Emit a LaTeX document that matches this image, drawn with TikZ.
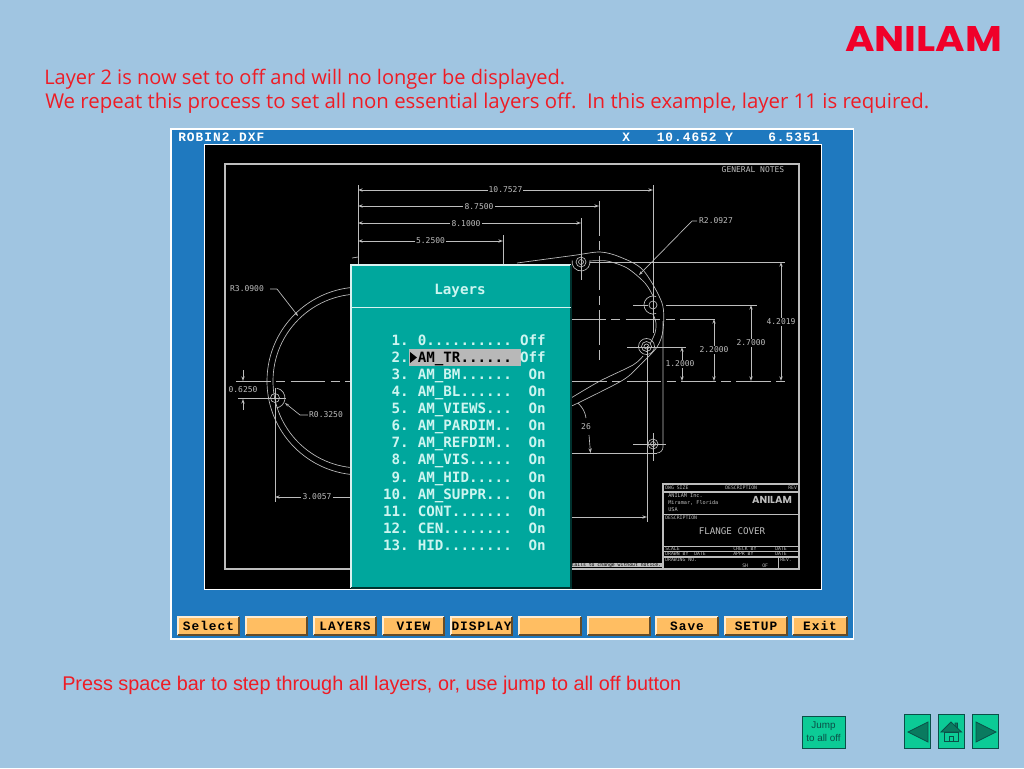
\documentclass[tikz,border=0pt]{standalone}
\usepackage{fontspec}
\setmainfont{Liberation Sans}
\newfontfamily\notefont{Open Sans}
\newfontfamily\dosfont{DejaVu Sans Mono}
\newfontfamily\keyfont[LetterSpace=8]{Liberation Mono}
\newfontfamily\logofont{Poppins}
\usetikzlibrary{arrows.meta}
\definecolor{slidebg}{HTML}{A0C5E1}
\definecolor{panelblue}{HTML}{1F79BF}
\definecolor{dialogteal}{HTML}{00A79D}
\definecolor{dialogtext}{HTML}{CDF5F0}
\definecolor{keyorange}{HTML}{FFBE62}
\definecolor{noteRed}{HTML}{EE1C25}
\definecolor{logoRed}{HTML}{F0002A}
\definecolor{cadgrey}{HTML}{BDBDBD}
\definecolor{navgreen}{HTML}{0CCB96}
\definecolor{navdark}{HTML}{0A7A5F}
\definecolor{navline}{HTML}{0B4F48}
\tikzset{
	cadline/.style={draw=cadgrey, line width=0.5pt},
	cadframe/.style={draw=cadgrey, line width=0.8pt},
	centreline/.style={cadline, dash pattern=on 26pt off 4pt on 7pt off 4pt},
	dimline/.style={cadline, {Stealth[open,length=3.5pt,width=2.5pt]}-{Stealth[open,length=3.5pt,width=2.5pt]}},
	dimtext/.style={inner sep=0.8pt, fill=black, text=cadgrey, font=\dosfont\fontsize{6}{6}\selectfont},
	tinytext/.style={inner sep=0pt, text=cadgrey, font=\dosfont\fontsize{3.6}{4}\selectfont},
	notetext/.style={inner sep=0pt, anchor=base west, text=noteRed},
	rowtext/.style={inner sep=0pt, text=dialogtext, font=\dosfont\bfseries\fontsize{10.65}{12}\selectfont},
	keytext/.style={inner sep=0pt, font=\keyfont\bfseries\fontsize{9.6}{12}\selectfont},
	navbox/.style={draw=navline, fill=navgreen, line width=0.7pt, inner sep=0pt},
	navicon/.style={draw=navline, fill=navdark, line width=0.6pt}
}
% one row of the layer list: row, y, name, state
\def\layerrow#1#2#3#4{
	\node[rowtext, anchor=base east] (num#1) at (409, #2) {#1.};
	\node[rowtext, anchor=base west] (lay#1) at (417.5, #2) {#3};
	\node[rowtext, anchor=base east] (state#1) at (546, #2) {#4};
}
\begin{document}
\begin{tikzpicture}[x=0.75pt, y=-0.75pt]
	%%%%% SLIDE %%%%%
	\useasboundingbox (0, 0) rectangle (1024, 768);
	\fill[slidebg] (0, 0) rectangle (1024, 768);
	\node[inner sep=0pt, text=logoRed] (logo) at (923.5, 38.5) {\resizebox{117.75pt}{18.75pt}{\logofont\bfseries ANILAM}};
	\node[notetext] (noteone) at (44, 84) {\resizebox{390.75pt}{!}{\notefont\fontsize{13.5}{16}\selectfont Layer 2 is now set to off and will no longer be displayed.}};
	\node[notetext] (notetwo) at (45, 108) {\resizebox{663pt}{!}{\notefont\fontsize{13.5}{16}\selectfont We repeat this process to set all non essential layers off.\ \ In this example, layer 11 is required.}};
	\node[notetext] (notepress) at (62, 690) {\resizebox{464.25pt}{!}{\fontsize{13.5}{16}\selectfont Press space bar to step through all layers, or, use jump to all off button}};

	%%%%% SCREEN %%%%%
	\draw[fill=panelblue, draw=white, line width=0.8pt] (171, 129) rectangle (853.5, 639);
	\draw[fill=black, draw=white, line width=0.6pt] (204, 144) rectangle (821, 589);
	\node[keytext, text=white, anchor=base west] (filename) at (178, 141) {ROBIN2.DXF};
	\node[keytext, text=white, anchor=base west] (xlabel) at (622, 141) {X};
	\node[keytext, text=white, anchor=base west] (xvalue) at (656.5, 141) {10.4652};
	\node[keytext, text=white, anchor=base west] (ylabel) at (725, 141) {Y};
	\node[keytext, text=white, anchor=base west] (yvalue) at (768, 141) {6.5351};

	%%%%% DRAWING %%%%%
	\draw[cadframe] (225, 164) rectangle (799, 569);
	\node[tinytext, font=\dosfont\fontsize{6}{6}\selectfont] (notes) at (753, 169.5) {GENERAL NOTES};

	% outline, left side
	\draw[cadline] (361, 381) ++(96:94) arc (96:264:94);
	\draw[cadline] (360, 381) ++(96:87) arc (96:264:87);
	\draw[cadline] (275, 398) circle (4.5);
	\draw[cadline] (275, 398) ++(-80:10) arc (-80:80:10);
	\draw[cadline] (238, 398.5) -- (286, 398.5);
	\draw[cadline] (275, 388) -- (275, 502);

	% outline, right side
	\draw[cadline] plot[smooth] coordinates {(517, 263) (573, 255.5) (600, 252) (620, 257) (643, 270) (662, 303) (663, 330) (657, 347) (640, 365) (623, 380) (578, 403) (571, 406)};
	\draw[cadline] plot[smooth] coordinates {(590, 261) (607, 261) (627, 268) (645, 283) (653, 296)};
	\draw[cadline] plot[smooth] coordinates {(653, 314) (656, 323) (655, 333) (650, 344)};
	\draw[cadline] plot[smooth] coordinates {(643, 356) (633, 365) (600, 381) (571, 398)};
	\draw[cadline] (581, 262) circle (5);
	\draw[cadline] (581, 262) circle (2.5);
	\draw[cadline] (581, 262) ++(-10:9) arc (-10:190:9);
	\draw[cadline] (653, 305) circle (4);
	\draw[cadline] (653, 305) ++(70:9) arc (70:290:9);
	\draw[cadline] (646.5, 346.5) circle (5);
	\draw[cadline] (646.5, 346.5) circle (2.5);
	\draw[cadline] (646.5, 346.5) circle (8);
	\draw[cadline] (653, 444) circle (5);
	\draw[cadline] (653, 444) circle (2.5);
	\draw[cadline] (633, 444) -- (666, 444);
	\draw[cadline] (653, 433) -- (653, 461);
	\draw[cadline] (663, 321) -- (663, 447) arc (0:90:6);
	\draw[cadline] (572, 453) -- (657, 453);
	\draw[cadline] (647, 346) -- (647, 522);

	% centre lines and extension lines
	\draw[centreline] (236, 381) -- (351, 381);
	\draw[centreline] (572, 381) -- (785, 381);
	\draw[centreline] (571, 319) -- (720, 319);
	\draw[centreline] (599, 201) -- (599, 363);
	\draw[cadline] (358, 185) -- (358, 265);
	\draw[cadline] (653, 185) -- (653, 333);
	\draw[cadline] (581, 218) -- (581, 280);
	\draw[cadline] (503, 235) -- (503, 265);
	\draw[cadline] (590, 262) -- (785, 262);
	\draw[cadline] (633, 305) -- (648, 305);
	\draw[cadline] (666, 305) -- (757, 305);
	\draw[cadline] (627, 347) -- (686, 347);
	\draw[cadline] (352, 258) -- (358, 257);

	% dimensions along the top
	\draw[dimline] (358, 190) -- (653, 190);
	\node[dimtext] (dimlength) at (505.5, 190) {10.7527};
	\draw[dimline] (358, 206) -- (599, 206);
	\node[dimtext] (dimsecond) at (479, 206.5) {8.7500};
	\draw[dimline] (358, 223) -- (581, 223);
	\node[dimtext] (dimthird) at (466, 223.5) {8.1000};
	\draw[dimline] (358, 241) -- (503, 241);
	\node[dimtext] (dimfourth) at (430.5, 241) {5.2500};

	% dimensions on the right
	\draw[dimline] (781, 262) -- (781, 381);
	\node[dimtext] (dimtall) at (781, 322) {4.2019};
	\draw[dimline] (751, 305) -- (751, 381);
	\node[dimtext] (dimmid) at (751, 343) {2.7000};
	\draw[dimline] (714, 319) -- (714, 381);
	\node[dimtext] (dimlow) at (714, 350) {2.2000};
	\draw[dimline] (682, 347) -- (682, 381);
	\node[dimtext] (dimsmall) at (680, 364) {1.2000};

	% leaders and the rest
	\draw[cadline, -{Stealth[length=3pt,width=2pt]}] (697, 221) -- (692, 221) -- (639, 275);
	\node[dimtext] (radtop) at (716, 221) {R2.0927};
	\draw[cadline, -{Stealth[length=3pt,width=2pt]}] (270, 289) -- (277, 289) -- (298, 316);
	\node[dimtext] (radleft) at (247, 289) {R3.0900};
	\draw[cadline, -{Stealth[length=3pt,width=2pt]}] (308, 415) -- (300, 415) -- (285, 403);
	\node[dimtext] (radhole) at (326, 415) {R0.3250};
	\draw[cadline, -{Stealth[open,length=3.5pt,width=2.5pt]}] (243, 370) -- (243, 381);
	\draw[cadline, {Stealth[open,length=3.5pt,width=2.5pt]}-] (243, 399) -- (243, 410);
	\node[dimtext] (dimhole) at (243, 390) {0.6250};
	\draw[dimline] (275, 497) -- (400, 497);
	\node[dimtext] (dimbottom) at (317, 497) {3.0057};
	\draw[dimline] (520, 517) -- (647, 517);
	\draw[cadline] (578, 403) .. controls (583, 408) and (585, 412) .. (586, 418);
	\draw[cadline, -{Stealth[open,length=3.5pt,width=2.5pt]}] (589, 435) -- (590.5, 453);
	\node[dimtext] (dimangle) at (586, 427) {26};
	\node[tinytext, anchor=east, fill=cadgrey, text=black, inner xsep=0.5pt] (tolerance) at (662, 565) {ersal Details to change without notice.};

	% title block
	\draw[cadframe] (663, 484) rectangle (799, 569);
	\draw[cadframe] (663, 492) -- (799, 492);
	\draw[cadline] (663, 514) -- (799, 514);
	\draw[cadline] (663, 546) -- (799, 546);
	\draw[cadline] (663, 551) -- (799, 551);
	\draw[cadframe] (663, 557) -- (799, 557);
	\draw[cadline] (778, 557) -- (778, 569);
	\node[tinytext, anchor=west] (blockdwg) at (665, 488) {DWG SIZE};
	\node[tinytext, anchor=west] (blockdesc) at (725, 488) {DESCRIPTION};
	\node[tinytext, anchor=west] (blockrev) at (788, 488) {REV};
	\node[tinytext, anchor=west, align=left, font=\dosfont\fontsize{3.9}{5.2}\selectfont] (blockfirm) at (668, 503) {ANILAM Inc.\\Miramar, Florida\\USA};
	\node[inner sep=0pt, text=cadgrey, font=\logofont\bfseries\fontsize{7.6}{8}\selectfont] (blocklogo) at (772, 499.5) {ANILAM};
	\node[tinytext, anchor=west] (blockhead) at (665, 518) {DESCRIPTION};
	\node[dimtext, fill=none, font=\dosfont\fontsize{6.9}{7}\selectfont] (blocktitle) at (732, 531) {FLANGE COVER};
	\node[tinytext, anchor=west] (blockscale) at (665, 548.5) {SCALE};
	\node[tinytext, anchor=west] (blockcheck) at (733, 548.5) {CHECK BY};
	\node[tinytext, anchor=west] (blockdate) at (775, 548.5) {DATE};
	\node[tinytext, anchor=west] (blockdrawn) at (665, 553.8) {DRAWN BY};
	\node[tinytext, anchor=west] (blockdrdate) at (694, 553.8) {DATE};
	\node[tinytext, anchor=west] (blockappr) at (733, 553.8) {APPR BY};
	\node[tinytext, anchor=west] (blockapdate) at (775, 553.8) {DATE};
	\node[tinytext, anchor=west] (blockno) at (665, 559.8) {DRAWING NO.};
	\node[tinytext, anchor=west] (blocksheet) at (742, 566) {SH};
	\node[tinytext, anchor=west] (blockof) at (762, 566) {OF};
	\node[tinytext, anchor=west] (blockrevbox) at (780, 559.8) {REV.};

	%%%%% LAYERS DIALOG %%%%%
	\fill[dialogteal] (351, 265) rectangle (571, 588);
	\draw[white!85!dialogteal, line width=0.9pt] (351, 588) -- (351, 265) -- (571, 265);
	\draw[black!70!dialogteal, line width=0.9pt] (351, 588) -- (571, 588) -- (571, 265);
	\draw[white!85!dialogteal, line width=0.7pt] (351, 307) -- (571, 307);
	\node[rowtext, anchor=base] (dialogtitle) at (460, 294.5) {Layers};
	\fill[black!28] (409, 349) rectangle (520.5, 366);
	\fill[black] (410, 352) -- (417, 357.5) -- (410, 363) -- cycle;
	\layerrow{1}{345.3}{0..........}{Off}
	\layerrow{2}{362.4}{\textcolor{black}{AM\_TR......}}{Off}
	\layerrow{3}{379.5}{AM\_BM......}{On}
	\layerrow{4}{396.6}{AM\_BL......}{On}
	\layerrow{5}{413.6}{AM\_VIEWS...}{On}
	\layerrow{6}{430.7}{AM\_PARDIM..}{On}
	\layerrow{7}{447.8}{AM\_REFDIM..}{On}
	\layerrow{8}{464.9}{AM\_VIS.....}{On}
	\layerrow{9}{482}{AM\_HID.....}{On}
	\layerrow{10}{499.1}{AM\_SUPPR...}{On}
	\layerrow{11}{516.1}{CONT.......}{On}
	\layerrow{12}{533.2}{CEN........}{On}
	\layerrow{13}{550.3}{HID........}{On}

	%%%%% SOFT KEYS %%%%%
	\foreach \xa/\xb/\lab [count=\i] in {178/239/Select, 246/307/, 314/376/LAYERS, 383/444/VIEW, 451/512/DISPLAY, 519/581/, 588/650/, 656/718/Save, 725/787/SETUP, 793/847/Exit}{
		\fill[keyorange] (\xa, 617) rectangle (\xb, 635);
		\draw[white!70!keyorange, line width=0.8pt] (\xa, 635) -- (\xa, 617) -- (\xb, 617);
		\draw[black!60!keyorange, line width=0.8pt] (\xa, 635) -- (\xb, 635) -- (\xb, 617);
		\node[keytext, text=black] (softkey\i) at ({(\xa+\xb)/2}, 626) {\lab};
	}

	%%%%% NAVIGATION %%%%%
	\node[navbox, minimum width=32.25pt, minimum height=24pt, align=center, text=navline, font=\fontsize{7.4}{9.6}\selectfont] (jump) at (823.5, 732) {Jump\\to all off};
	\node[navbox, minimum width=20pt, minimum height=25.5pt] (navback) at (917.5, 731) {};
	\node[navbox, minimum width=20pt, minimum height=25.5pt] (navhome) at (951.5, 731) {};
	\node[navbox, minimum width=20pt, minimum height=25.5pt] (navnext) at (985.5, 731) {};
	\draw[navicon] (908, 732) -- (928, 722) -- (928, 742) -- cycle;
	\draw[navicon] (976, 722) -- (996, 732) -- (976, 742) -- cycle;
	\draw[navicon] (955, 728) -- (955, 723) -- (957.5, 723) -- (957.5, 730) -- cycle;
	\draw[navicon] (951, 722) -- (961.5, 732) -- (941, 732) -- cycle;
	\draw[navline, fill=navgreen, line width=0.6pt] (944.5, 732) rectangle (958.5, 741.5);
	\draw[navline, line width=0.6pt] (949.5, 741.5) -- (949.5, 736.5) -- (953.5, 736.5) -- (953.5, 741.5);
\end{tikzpicture}
\end{document}
